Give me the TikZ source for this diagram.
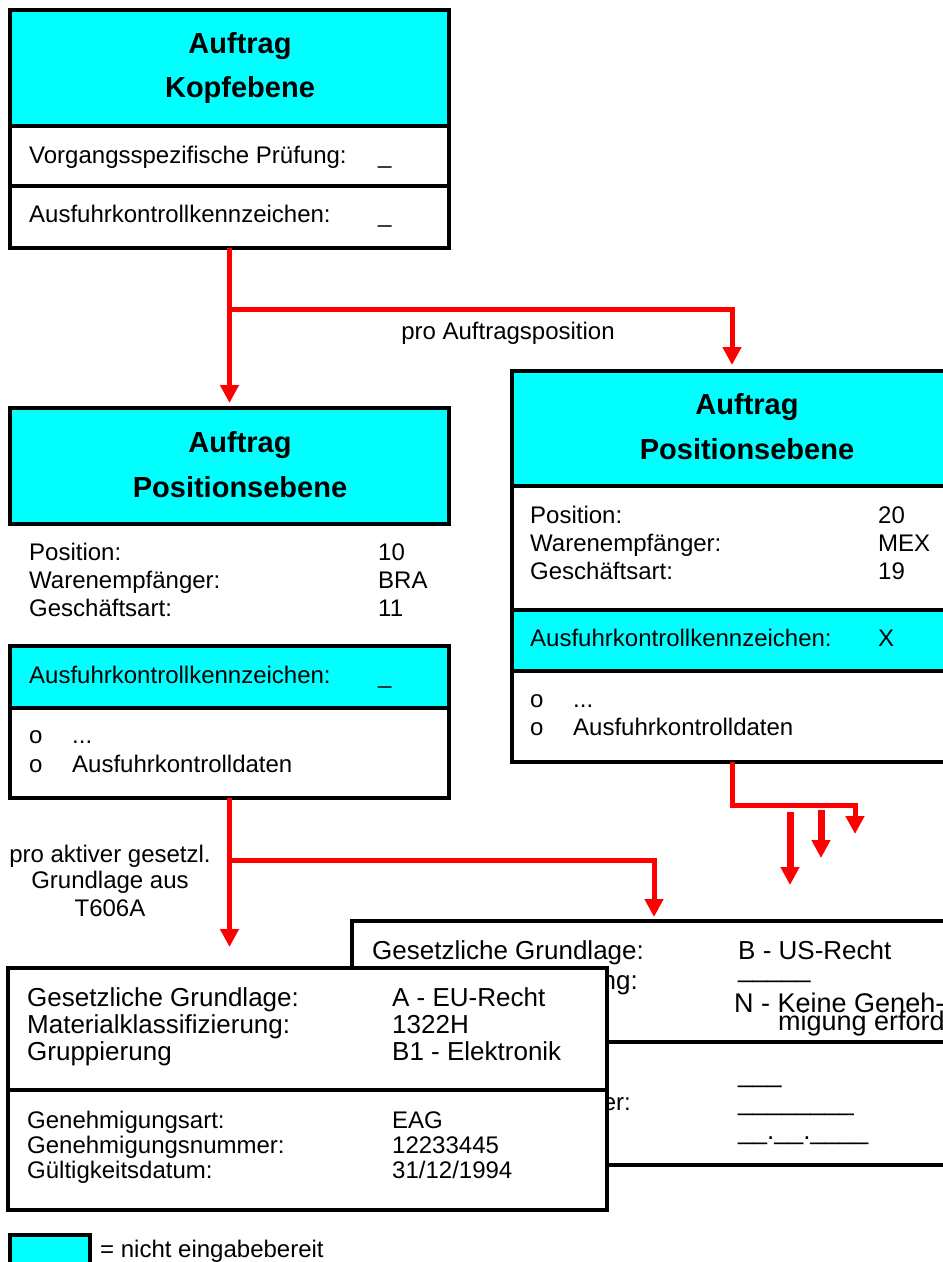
\documentclass[tikz,border=0pt]{standalone}
\usepackage{fontspec}
\setmainfont{Liberation Sans}
\usetikzlibrary{arrows.meta}
\definecolor{tuerkis}{RGB}{0,255,255}
\definecolor{pfeilrot}{RGB}{255,0,0}

\begin{document}
\begin{tikzpicture}[x=1pt,y=-1pt,
    feld/.style={draw,line width=4pt,outer sep=0pt,inner sep=0pt,anchor=north west},
    grau/.style={feld,fill=tuerkis},
    weiss/.style={feld,fill=white},
    zeile/.style={anchor=base west,inner sep=0pt,font=\fontsize{24}{28}\selectfont},
    gross/.style={zeile,font=\fontsize{26}{30}\selectfont},
    linie/.style={gross,text height=1pt,text depth=5pt},
    titel/.style={anchor=base,inner sep=0pt,font=\fontsize{29}{34}\selectfont\bfseries},
    notiz/.style={anchor=base,inner sep=0pt,font=\fontsize{24}{28}\selectfont},
    fluss/.style={draw=pfeilrot,line width=5pt,-{Triangle[length=18pt,width=18pt]}},
    fluss2/.style={fluss,line width=7pt}]
  \useasboundingbox (0,0) rectangle (943,1262);
  \clip (0,0) rectangle (943,1262);

  % Kopfebene
  \node[grau,minimum width=439pt,minimum height=116pt] (kopf_titel) at (10,10) {};
  \node[weiss,minimum width=439pt,minimum height=60pt] (kopf_pruef) at (10,126) {};
  \node[weiss,minimum width=439pt,minimum height=62pt] (kopf_akz) at (10,186) {};
  \node[titel] (kopf_t1) at (240,53) {Auftrag};
  \node[titel] (kopf_t2) at (240,97) {Kopfebene};
  \node[zeile] (kopf_pruef_l) at (29,163) {Vorgangsspezifische Prüfung:};
  \node[zeile] (kopf_pruef_w) at (378,163) {\_};
  \node[zeile] (kopf_akz_l) at (29,222) {Ausfuhrkontrollkennzeichen:};
  \node[zeile] (kopf_akz_w) at (378,222) {\_};

  % Positionsebene links
  \node[grau,minimum width=439pt,minimum height=116pt] (posl_titel) at (10,408) {};
  \node[titel] (posl_t1) at (240,452) {Auftrag};
  \node[titel] (posl_t2) at (240,497) {Positionsebene};
  \node[zeile] (posl_pos_l) at (29,560) {Position:};
  \node[zeile] (posl_pos_w) at (378,560) {10};
  \node[zeile] (posl_empf_l) at (29,588) {Warenempfänger:};
  \node[zeile] (posl_empf_w) at (378,588) {BRA};
  \node[zeile] (posl_art_l) at (29,616) {Geschäftsart:};
  \node[zeile] (posl_art_w) at (378,616) {11};
  \node[grau,minimum width=439pt,minimum height=62pt] (posl_akz) at (10,646) {};
  \node[weiss,minimum width=439pt,minimum height=90pt] (posl_daten) at (10,708) {};
  \node[zeile] (posl_akz_l) at (29,683) {Ausfuhrkontrollkennzeichen:};
  \node[zeile] (posl_akz_w) at (378,683) {\_};
  \node[zeile] (posl_o1) at (29,743) {o};
  \node[zeile] (posl_d1) at (72,743) {...};
  \node[zeile] (posl_o2) at (29,772) {o};
  \node[zeile] (posl_d2) at (72,772) {Ausfuhrkontrolldaten};

  % Positionsebene rechts
  \node[grau,minimum width=470pt,minimum height=115pt] (posr_titel) at (512,371) {};
  \node[weiss,minimum width=470pt,minimum height=124pt] (posr_felder) at (512,486) {};
  \node[grau,minimum width=470pt,minimum height=61pt] (posr_akz) at (512,610) {};
  \node[weiss,minimum width=470pt,minimum height=91pt] (posr_daten) at (512,671) {};
  \node[titel] (posr_t1) at (747,414) {Auftrag};
  \node[titel] (posr_t2) at (747,459) {Positionsebene};
  \node[zeile] (posr_pos_l) at (530,523) {Position:};
  \node[zeile] (posr_pos_w) at (878,523) {20};
  \node[zeile] (posr_empf_l) at (530,551) {Warenempfänger:};
  \node[zeile] (posr_empf_w) at (878,551) {MEX};
  \node[zeile] (posr_art_l) at (530,579) {Geschäftsart:};
  \node[zeile] (posr_art_w) at (878,579) {19};
  \node[zeile] (posr_akz_l) at (530,646) {Ausfuhrkontrollkennzeichen:};
  \node[zeile] (posr_akz_w) at (878,646) {X};
  \node[zeile] (posr_o1) at (530,707) {o};
  \node[zeile] (posr_d1) at (573,707) {...};
  \node[zeile] (posr_o2) at (530,735) {o};
  \node[zeile] (posr_d2) at (573,735) {Ausfuhrkontrolldaten};

  % Kopf -> Positionen
  \coordinate (ast_kopf) at (231,309);
  \draw[fluss,shorten >=5pt] (kopf_akz.south) -- (posl_titel.north);
  \draw[fluss,shorten >=6pt] (kopf_akz.south |- ast_kopf) -| ([xshift=220pt]posr_titel.north west);
  \node[notiz] (txt_pro_pos) at (508,339) {pro Auftragsposition};

  % gesetzliche Grundlage B (hinten)
  \node[weiss,minimum width=650pt,minimum height=121pt] (gr_b_oben) at (352,921) {};
  \node[weiss,minimum width=650pt,minimum height=123pt] (gr_b_unten) at (352,1042) {};
  \node[gross] (gr_b_ges_l) at (372,959) {Gesetzliche Grundlage:};
  \node[gross] (gr_b_ges_w) at (738,959) {B - US-Recht};
  \node[gross,anchor=base east] (gr_b_mat_l) at (638,989) {ng:};
  \node[linie] (gr_b_mat_w) at (738,977) {\_\_\_\_\_};
  \node[zeile,font=\fontsize{27}{30}\selectfont,text depth=0pt] (gr_b_gen_w1) at (734,1012) {N - Keine Geneh-};
  \node[zeile,font=\fontsize{27}{30}\selectfont,text height=14pt] (gr_b_gen_w2) at (778,1030) {migung erford};
  \node[linie] (gr_b_art_w) at (738,1082) {\_\_\_};
  \node[zeile,anchor=base east] (gr_b_nr_l) at (631,1110) {er:};
  \node[linie] (gr_b_nr_w) at (738,1110) {\_\_\_\_\_\_\_\_};
  \node[linie] (gr_b_dat_w) at (738,1139) {\_\_.\_\_.\_\_\_\_};

  % gesetzliche Grundlage A (vorne)
  \node[weiss,minimum width=599pt,minimum height=122pt] (gr_a_oben) at (8,968) {};
  \node[weiss,minimum width=599pt,minimum height=120pt] (gr_a_unten) at (8,1090) {};
  \node[gross] (gr_a_ges_l) at (27,1006) {Gesetzliche Grundlage:};
  \node[gross] (gr_a_ges_w) at (392,1006) {A - EU-Recht};
  \node[gross] (gr_a_mat_l) at (27,1033) {Materialklassifizierung:};
  \node[gross] (gr_a_mat_w) at (392,1033) {1322H};
  \node[gross] (gr_a_grp_l) at (27,1060) {Gruppierung};
  \node[gross] (gr_a_grp_w) at (392,1060) {B1 - Elektronik};
  \node[zeile] (gr_a_art_l) at (27,1128) {Genehmigungsart:};
  \node[zeile] (gr_a_art_w) at (392,1128) {EAG};
  \node[zeile] (gr_a_nr_l) at (27,1153) {Genehmigungsnummer:};
  \node[zeile] (gr_a_nr_w) at (392,1153) {12233445};
  \node[zeile] (gr_a_dat_l) at (27,1178) {Gültigkeitsdatum:};
  \node[zeile] (gr_a_dat_w) at (392,1178) {31/12/1994};

  % Position -> gesetzliche Grundlagen
  \coordinate (ast_pos) at (231,860);
  \draw[fluss,shorten >=21pt] (posl_daten.south) -- (posl_daten.south |- gr_a_oben.north);
  \draw[fluss,shorten >=4pt] (posl_daten.south |- ast_pos) -| ([xshift=302pt]gr_b_oben.north west);
  \node[notiz] (txt_akt_1) at (110,862) {pro aktiver gesetzl.};
  \node[notiz] (txt_akt_2) at (110,888) {Grundlage aus};
  \node[notiz] (txt_akt_3) at (110,916) {T606A};

  % rechte Position -> weitere Grundlagen
  \coordinate (ast_r) at (855,805);
  \coordinate (p1_a) at (790,812);
  \coordinate (p1_b) at (790,885);
  \coordinate (p2_a) at (821,810);
  \coordinate (p2_b) at (821,858);
  \draw[fluss] ([xshift=220pt]posr_daten.south west) |- (ast_r) -- ++(0,29);
  \draw[fluss2] (p1_a) -- (p1_b);
  \draw[fluss2] (p2_a) -- (p2_b);

  % Legende
  \node[grau,minimum width=80pt,minimum height=40pt] (leg_feld) at (10,1235) {};
  \node[zeile] (leg_text) at (100,1257) {= nicht eingabebereit};
\end{tikzpicture}
\end{document}
